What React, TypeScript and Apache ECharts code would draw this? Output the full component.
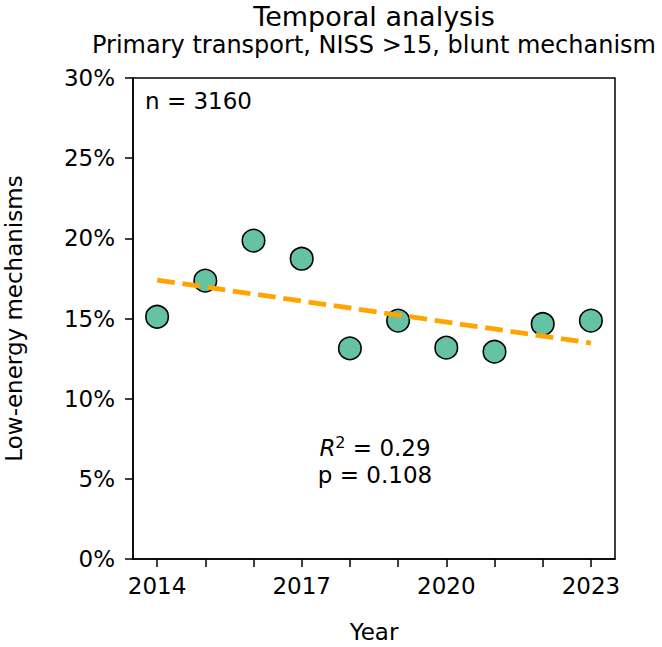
import React, { useEffect, useRef } from "react";
import * as echarts from "echarts";

const years = [2014, 2015, 2016, 2017, 2018, 2019, 2020, 2021, 2022, 2023];
const lowEnergyPct = [15.11, 17.36, 19.86, 18.73, 13.14, 14.87, 13.18, 12.93, 14.66, 14.87];
const trendYears = [2014, 2023];
const trendPct = [17.4, 13.47];
const xLabelYears = [2014, 2017, 2020, 2023];
const titleText = "Temporal analysis";
const subtitleText = "Primary transport, NISS >15, blunt mechanism";
const nText = "n = 3160";
const r2Value = "0.29";
const pValue = "0.108";

const FONT = "DejaVu Sans";

export default function App() {
  const ref = useRef<HTMLDivElement>(null);
  useEffect(() => {
    document.body.style.margin = "0";
    const chart = echarts.init(ref.current!, null, { renderer: "svg" });
    const left = 133;
    const top = 78;
    const width = 482;
    const height = 481;
    const cx = left + width / 2;
    chart.setOption({
      animation: false,
      backgroundColor: "#ffffff",
      grid: {
        left,
        top,
        width,
        height,
        show: true,
        borderColor: "#000",
        borderWidth: 1.5,
        backgroundColor: "transparent",
        outerBoundsMode: "none",
      },
      xAxis: {
        type: "value",
        min: 2013.5,
        max: 2023.5,
        splitLine: { show: false },
        axisLine: { show: true, lineStyle: { color: "#000", width: 1.5 } },
        axisTick: {
          show: true,
          length: 8,
          inside: false,
          customValues: years,
          lineStyle: { color: "#000", width: 1.5 },
        },
        axisLabel: {
          customValues: xLabelYears,
          formatter: (v: number) => String(v),
          fontSize: 23,
          fontFamily: FONT,
          color: "#000",
          margin: 15,
        },
      },
      yAxis: {
        type: "value",
        min: 0,
        max: 30,
        interval: 5,
        splitLine: { show: false },
        axisLine: { show: true, lineStyle: { color: "#000", width: 1.5 } },
        axisTick: { show: true, length: 8, inside: false, lineStyle: { color: "#000", width: 1.5 } },
        axisLabel: {
          formatter: "{value}%",
          fontSize: 23,
          fontFamily: FONT,
          color: "#000",
          margin: 18,
        },
      },
      series: [
        {
          type: "scatter",
          data: years.map((y, i) => [y, lowEnergyPct[i]]),
          symbol: "circle",
          symbolSize: 22.5,
          itemStyle: { color: "#66c2a5", borderColor: "#000", borderWidth: 1.6, opacity: 1 },
          z: 2,
        },
        {
          type: "line",
          data: trendYears.map((y, i) => [y, trendPct[i]]),
          symbol: "none",
          lineStyle: { color: "#FFA500", width: 4.8, type: [17.8, 7.7], cap: "butt" },
          z: 3,
        },
      ],
      graphic: [
        {
          type: "text",
          x: cx,
          y: 16,
          style: { text: titleText, font: `27px "${FONT}"`, fill: "#000", align: "center", verticalAlign: "middle" },
        },
        {
          type: "text",
          x: cx,
          y: 45,
          style: { text: subtitleText, font: `24px "${FONT}"`, fill: "#000", align: "center", verticalAlign: "middle" },
        },
        {
          type: "text",
          x: 145,
          y: 101,
          style: { text: nText, font: `23px "${FONT}"`, fill: "#000", align: "left", verticalAlign: "middle" },
        },
        {
          type: "text",
          x: cx + 1,
          y: 461,
          style: {
            text: `{i|R}{s|2}{n| = ${r2Value}}\n{n|p = ${pValue}}`,
            align: "center",
            verticalAlign: "middle",
            fill: "#000",
            rich: {
              i: { fontFamily: FONT, fontSize: 23, fontStyle: "italic", lineHeight: 27, fill: "#000" },
              s: { fontFamily: FONT, fontSize: 16, lineHeight: 27, verticalAlign: "top", fill: "#000" },
              n: { fontFamily: FONT, fontSize: 23, lineHeight: 27, fill: "#000" },
            },
          },
        },
        {
          type: "text",
          x: 14,
          y: top + height / 2,
          rotation: Math.PI / 2,
          style: { text: "Low-energy mechanisms", font: `23px "${FONT}"`, fill: "#000", align: "center", verticalAlign: "middle" },
        },
        {
          type: "text",
          x: cx,
          y: 632,
          style: { text: "Year", font: `23px "${FONT}"`, fill: "#000", align: "center", verticalAlign: "middle" },
        },
      ],
    });
    return () => chart.dispose();
  }, []);
  return <div ref={ref} style={{ width: 662, height: 647 }} />;
}
